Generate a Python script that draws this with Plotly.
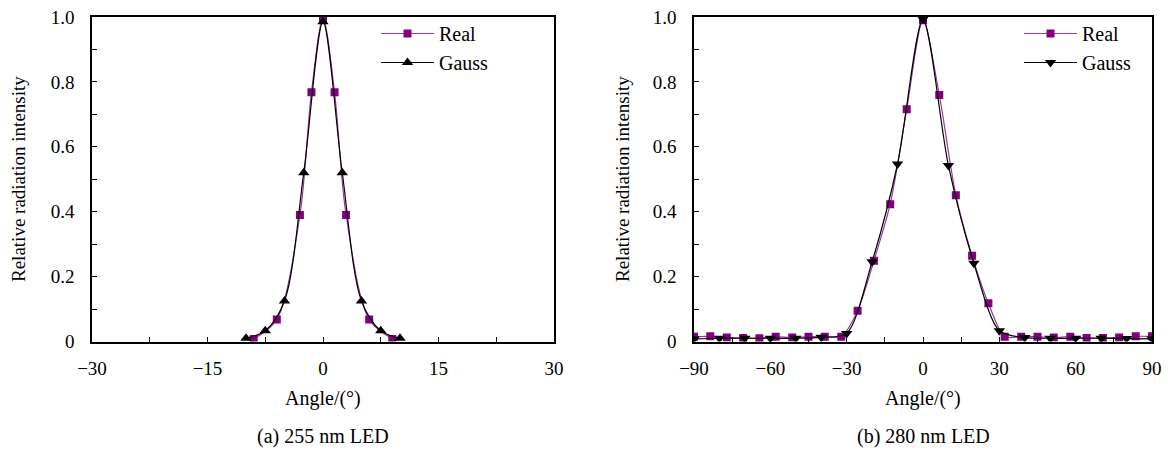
import plotly.graph_objects as go

# ---- Data: (a) 255 nm LED ----
a_real_x = [-9, -6, -3, -1.5, 0, 1.5, 3, 6, 9]
a_real_y = [0.008, 0.068, 0.39, 0.768, 0.995, 0.768, 0.39, 0.068, 0.008]
a_gauss_x = [-10, -7.5, -5, -2.5, 0, 2.5, 5, 7.5, 10]
a_gauss_y = [0.01, 0.033, 0.125, 0.52, 0.985, 0.52, 0.125, 0.033, 0.01]

# ---- Data: (b) 280 nm LED ----
b_real_x = [-90, -83.6, -77.1, -70.7, -64.3, -57.9, -51.4, -45, -38.6, -32.1, -25.7, -19.3,
            -12.9, -6.4, 0, 6.4, 12.9, 19.3, 25.7, 32.1, 38.6, 45, 51.4, 57.9, 64.3, 70.7,
            77.1, 83.6, 90]
b_real_y = [0.015, 0.016, 0.012, 0.011, 0.010, 0.015, 0.012, 0.015, 0.015, 0.015, 0.095, 0.249,
            0.423, 0.716, 0.99, 0.76, 0.451, 0.264, 0.118, 0.015, 0.015, 0.015, 0.012, 0.015,
            0.011, 0.011, 0.012, 0.016, 0.016]
b_gauss_x = [-90, -80, -70, -60, -50, -40, -30, -20, -10, 0, 10, 20, 30, 40, 50, 60, 70, 80, 90]
b_gauss_y = [0.008, 0.010, 0.010, 0.010, 0.010, 0.013, 0.025, 0.246, 0.547, 0.993, 0.542, 0.241,
             0.033, 0.012, 0.010, 0.010, 0.010, 0.009, 0.008]

y_tickvals = [0, 0.2, 0.4, 0.6, 0.8, 1.0]
y_ticktext = ["0", "0.2", "0.4", "0.6", "0.8", "1.0"]
a_xticks = [-30, -15, 0, 15, 30]
b_xticks = [-90, -60, -30, 0, 30, 60, 90]

PURPLE = "#800080"
PURPLE_LINE = "#9a3a9a"
FONT = "Liberation Serif, Times New Roman, serif"
FS = 19
W, H = 1174, 453

fig = go.Figure()

fig.add_trace(go.Scatter(x=a_real_x, y=a_real_y, name="Real", mode="lines+markers",
                         line=dict(color=PURPLE_LINE, width=1.2, shape="spline", smoothing=0.9),
                         marker=dict(symbol="square", size=8, color=PURPLE),
                         xaxis="x", yaxis="y", legend="legend"))
fig.add_trace(go.Scatter(x=a_gauss_x, y=a_gauss_y, name="Gauss", mode="lines+markers",
                         line=dict(color="black", width=1.2, shape="spline", smoothing=0.9),
                         marker=dict(symbol="triangle-up", size=10, color="black"),
                         xaxis="x", yaxis="y", legend="legend"))
fig.add_trace(go.Scatter(x=b_real_x, y=b_real_y, name="Real", mode="lines+markers",
                         line=dict(color=PURPLE_LINE, width=1.2, shape="spline", smoothing=0.8),
                         marker=dict(symbol="square", size=8, color=PURPLE),
                         xaxis="x2", yaxis="y2", legend="legend2"))
fig.add_trace(go.Scatter(x=b_gauss_x, y=b_gauss_y, name="Gauss", mode="lines+markers",
                         line=dict(color="black", width=1.2, shape="spline", smoothing=0.8),
                         marker=dict(symbol="triangle-down", size=10, color="black"),
                         xaxis="x2", yaxis="y2", legend="legend2"))

def px_x(p):
    return p / W

def px_y(p):
    return 1 - p / H

common_axis = dict(showline=True, linecolor="black", linewidth=1.5, mirror=True,
                   ticks="inside", ticklen=5, tickcolor="black", tickwidth=1,
                   showgrid=False, zeroline=False, automargin=False,
                   tickfont=dict(family=FONT, size=FS, color="black"))
minor_common = dict(ticks="inside", ticklen=5, tickcolor="black", tickwidth=1)

def label(text, x, y, angle=0, size=FS):
    return dict(text=text, x=px_x(x), y=px_y(y), xref="paper", yref="paper",
                xanchor="center", yanchor="middle", textangle=angle, showarrow=False,
                font=dict(family=FONT, size=size, color="black"))

fig.update_layout(
    width=W, height=H,
    margin=dict(l=0, r=0, t=0, b=0),
    paper_bgcolor="white", plot_bgcolor="white",
    font=dict(family=FONT, size=FS, color="black"),
    xaxis=dict(domain=[px_x(92), px_x(554)], range=[-30, 30], tickvals=a_xticks,
               minor=dict(dtick=7.5, tick0=-30, **minor_common), ticklabelstandoff=9,
               anchor="y", **common_axis),
    yaxis=dict(domain=[px_y(341.5), px_y(17)], range=[0, 1.0], tickvals=y_tickvals,
               ticktext=y_ticktext, ticklabelstandoff=12,
               minor=dict(dtick=0.1, tick0=0, **minor_common),
               anchor="x", **common_axis),
    xaxis2=dict(domain=[px_x(694), px_x(1152)], range=[-90, 90], tickvals=b_xticks,
                minor=dict(dtick=15, tick0=-90, **minor_common), ticklabelstandoff=9,
                anchor="y2", **common_axis),
    yaxis2=dict(domain=[px_y(341.5), px_y(17)], range=[0, 1.0], tickvals=y_tickvals,
                ticktext=y_ticktext, ticklabelstandoff=12,
                minor=dict(dtick=0.1, tick0=0, **minor_common),
                anchor="x2", **common_axis),
    legend=dict(x=px_x(376), y=px_y(14), xanchor="left", yanchor="top",
                bgcolor="rgba(0,0,0,0)", itemwidth=53, tracegroupgap=0,
                font=dict(family=FONT, size=20)),
    legend2=dict(x=px_x(1019), y=px_y(14), xanchor="left", yanchor="top",
                 bgcolor="rgba(0,0,0,0)", itemwidth=53, tracegroupgap=0,
                 font=dict(family=FONT, size=20)),
    showlegend=True,
    annotations=[
        label("Relative radiation intensity", 18, 179, angle=-90),
        label("Relative radiation intensity", 622, 179, angle=-90),
        label("Angle/(°)", 323, 398, size=20),
        label("Angle/(°)", 923, 398, size=20),
        label("(a) 255 nm LED", 323, 436, size=20),
        label("(b) 280 nm LED", 923, 436, size=20),
    ],
)

fig.write_html("out.html")
